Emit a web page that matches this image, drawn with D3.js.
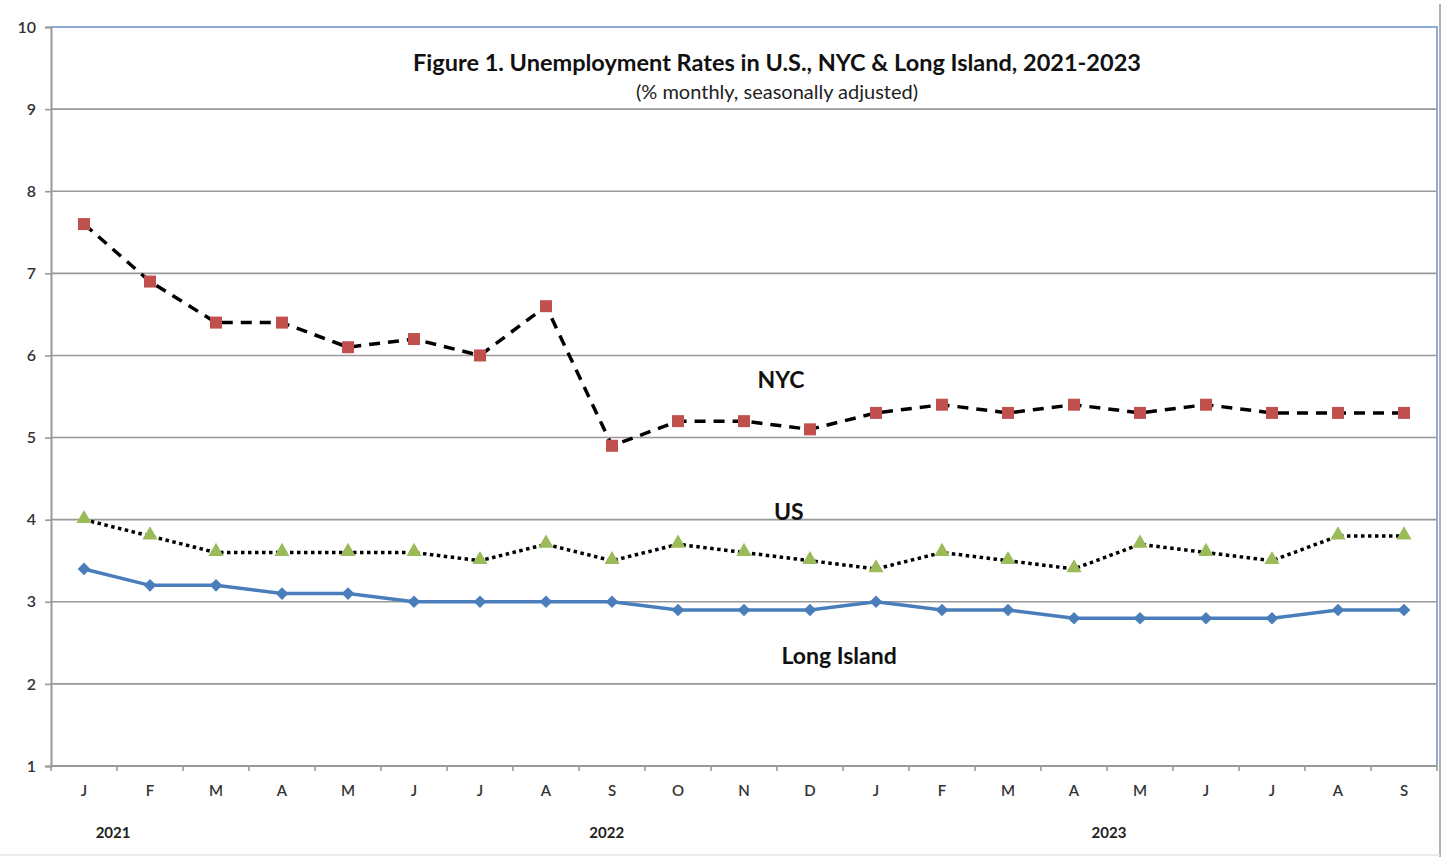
<!DOCTYPE html>
<html>
<head>
<meta charset="utf-8">
<script src="https://cdn.jsdelivr.net/npm/d3@7"></script>
<style>
  body { margin: 0; background: #fff; }
  text { font-family: Lato, "Noto Sans", sans-serif; }
</style>
</head>
<body>
<script>
// months shown on the x axis
const months = ['J','F','M','A','M','J','J','A','S','O','N','D','J','F','M','A','M','J','J','A','S']
const nyc = [7.6, 6.9, 6.4, 6.4, 6.1, 6.2, 6.0, 6.6, 4.9, 5.2, 5.2, 5.1, 5.3, 5.4, 5.3, 5.4, 5.3, 5.4, 5.3, 5.3, 5.3]
const us = [4.0, 3.8, 3.6, 3.6, 3.6, 3.6, 3.5, 3.7, 3.5, 3.7, 3.6, 3.5, 3.4, 3.6, 3.5, 3.4, 3.7, 3.6, 3.5, 3.8, 3.8]
const longIsland = [3.4, 3.2, 3.2, 3.1, 3.1, 3.0, 3.0, 3.0, 3.0, 2.9, 2.9, 2.9, 3.0, 2.9, 2.9, 2.8, 2.8, 2.8, 2.8, 2.9, 2.9]
const yTicks = [1, 2, 3, 4, 5, 6, 7, 8, 9, 10]
const years = ['2021', '2022', '2023']
const yearPos = [0.44, 7.92, 15.53]   // position in month units

const W = 1448, H = 857
const margin = { top: 27, right: 11, bottom: 91, left: 51 }
const width = W - margin.left - margin.right
const height = H - margin.top - margin.bottom

const svg = d3.select("body").append("svg")
    .attr("width", W)
    .attr("height", H)

// outer frame bits
svg.append("line").attr("x1", 1440).attr("x2", 1440).attr("y1", 4).attr("y2", H)
    .attr("stroke", "#b0b0b0").attr("stroke-width", 2)
svg.append("line").attr("x1", 0).attr("x2", 1440).attr("y1", 855).attr("y2", 855)
    .attr("stroke", "#e4e4e4").attr("stroke-width", 1.5)

const g = svg.append("g")
    .attr("transform", "translate(" + margin.left + "," + margin.top + ")")

const x = d3.scaleBand()
    .domain(d3.range(months.length))
    .range([0, width])

const y = d3.scaleLinear()
    .domain([1, 10])
    .range([height, 0])

const cx = i => x(i) + x.bandwidth() / 2

// gridlines
g.append("g")
    .selectAll("line")
    .data(yTicks.filter(d => d > 1 && d < 10))
    .join("line")
    .attr("x1", 0).attr("x2", width)
    .attr("y1", d => y(d)).attr("y2", d => y(d))
    .attr("stroke", "#999").attr("stroke-width", 1.6)

// blue top / right border of plot area
g.append("path")
    .attr("d", "M0," + y(10) + "H" + width + "V" + height)
    .attr("fill", "none")
    .attr("stroke", "#8eaadb")
    .attr("stroke-width", 2)

// y axis
const yAxis = g.append("g")
    .call(d3.axisLeft(y).tickValues(yTicks).tickSize(6).tickFormat(d3.format("d")))
yAxis.select(".domain").attr("stroke", "#999").attr("stroke-width", 2)
yAxis.selectAll(".tick line").attr("stroke", "#999").attr("stroke-width", 1.6)
yAxis.selectAll(".tick text")
    .attr("x", -15)
    .style("font-size", "16px")
    .style("font-weight", "600")
    .attr("fill", "#333")

// x axis with ticks at band edges
const xAxis = g.append("g")
    .attr("transform", "translate(0," + height + ")")
xAxis.append("line")
    .attr("x1", 0).attr("x2", width)
    .attr("stroke", "#999").attr("stroke-width", 2)
xAxis.selectAll(".xtick")
    .data(d3.range(months.length + 1))
    .join("line")
    .attr("class", "xtick")
    .attr("x1", i => i < months.length ? x(i) : width)
    .attr("x2", i => i < months.length ? x(i) : width)
    .attr("y1", 0).attr("y2", 5)
    .attr("stroke", "#999").attr("stroke-width", 1.6)
xAxis.selectAll(".xlab")
    .data(months)
    .join("text")
    .attr("class", "xlab")
    .attr("x", (d, i) => cx(i))
    .attr("y", 30)
    .attr("text-anchor", "middle")
    .style("font-size", "15px")
    .style("font-weight", "600")
    .attr("fill", "#333")
    .text(d => d)
xAxis.selectAll(".year")
    .data(years)
    .join("text")
    .attr("class", "year")
    .attr("x", (d, i) => cx(0) + yearPos[i] * x.step())
    .attr("y", 72)
    .attr("text-anchor", "middle")
    .style("font-size", "15px")
    .style("font-weight", "bold")
    .attr("fill", "#222")
    .text(d => d)

// lines
const line = d3.line()
    .x((d, i) => cx(i))
    .y(d => y(d))

g.append("path").datum(nyc)
    .attr("d", line)
    .attr("fill", "none")
    .attr("stroke", "#000")
    .attr("stroke-width", 3.5)
    .attr("stroke-dasharray", "11,8")

g.append("path").datum(us)
    .attr("d", line)
    .attr("fill", "none")
    .attr("stroke", "#000")
    .attr("stroke-width", 3.5)
    .attr("stroke-dasharray", "3.5,3.5")

g.append("path").datum(longIsland)
    .attr("d", line)
    .attr("fill", "none")
    .attr("stroke", "#4a7ebb")
    .attr("stroke-width", 3.5)

// markers
g.append("g")
    .selectAll("rect")
    .data(nyc)
    .join("rect")
    .attr("x", (d, i) => cx(i) - 6)
    .attr("y", d => y(d) - 6)
    .attr("width", 12).attr("height", 12)
    .attr("fill", "#c0504d")

g.append("g")
    .selectAll("path")
    .data(us)
    .join("path")
    .attr("d", d3.symbol().type(d3.symbolTriangle).size(100))
    .attr("transform", (d, i) => "translate(" + cx(i) + "," + (y(d) - 1) + ")")
    .attr("fill", "#9bbb59")

g.append("g")
    .selectAll("path")
    .data(longIsland)
    .join("path")
    .attr("d", d3.symbol().type(d3.symbolSquare).size(80))
    .attr("transform", (d, i) => "translate(" + cx(i) + "," + y(d) + ") rotate(45)")
    .attr("fill", "#4a7ebb")

// series labels
const labels = [
    { text: "NYC", idx: 10.56, v: 5.6 },
    { text: "US", idx: 10.68, v: 3.99 },
    { text: "Long Island", idx: 11.44, v: 2.24 }
]
g.selectAll(".slab")
    .data(labels)
    .join("text")
    .attr("class", "slab")
    .attr("x", d => cx(0) + d.idx * x.step())
    .attr("y", d => y(d.v))
    .attr("text-anchor", "middle")
    .style("font-size", "23px")
    .style("font-weight", "bold")
    .attr("fill", "#111")
    .text(d => d.text)

// title
svg.append("text")
    .attr("x", 777).attr("y", 71)
    .attr("text-anchor", "middle")
    .style("font-size", "23.5px")
    .style("font-weight", "bold")
    .attr("fill", "#111")
    .text("Figure 1. Unemployment Rates in U.S., NYC & Long Island, 2021-2023")

svg.append("text")
    .attr("x", 777).attr("y", 99)
    .attr("text-anchor", "middle")
    .style("font-size", "20px")
    .attr("fill", "#222")
    .text("(% monthly, seasonally adjusted)")
</script>
</body>
</html>
